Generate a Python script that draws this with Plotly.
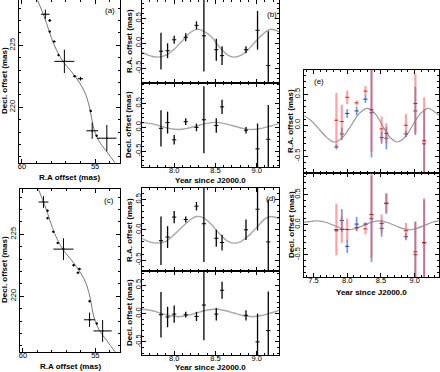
import plotly.graph_objects as go

W, H = 440, 372

# ---------------- data ----------------
# panels (a) and (c): sky positions (R.A., Decl. offsets in mas) with errors
ra_a = [58.4, 58.1, 58.1, 57.8, 57.5, 57.1, 56.4, 56.0, 55.3, 55.2, 54.9, 54.2]
dec_a = [227.5, 227.0, 226.1, 225.3, 224.2, 223.7, 222.5, 222.3, 219.7, 218.1, 217.7, 217.5]
ra_err_a = [0.3, 0.1, 0.08, 0.1, 0.07, 0.68, 0.12, 0.18, 0.08, 0.4, 0.08, 0.66]
dec_err_a = [0.38, 0.12, 0.1, 0.08, 0.08, 0.94, 0.1, 0.15, 0.1, 0.65, 0.1, 1.07]

ra_c = [58.58, 58.3, 58.3, 57.9, 57.6, 57.2, 56.5, 56.1, 56.2, 55.4, 55.4, 54.9, 54.5]
dec_c = [227.6, 226.9, 226.3, 225.2, 224.3, 223.8, 222.5, 222.2, 221.9, 219.6, 218.1, 217.8, 217.2]
ra_err_c = [0.34, 0.08, 0.08, 0.08, 0.08, 0.7, 0.1, 0.12, 0.1, 0.08, 0.38, 0.08, 0.63]
dec_err_c = [0.47, 0.1, 0.1, 0.08, 0.08, 0.88, 0.1, 0.1, 0.1, 0.1, 0.58, 0.1, 0.88]

# model track on the sky
track_ra = [58.93, 58.65, 58.31, 57.97, 57.63, 57.17, 56.6, 56.03, 55.62, 55.34, 55.12, 54.77, 54.2, 53.63]
track_dec = [228.63, 227.82, 226.75, 225.54, 224.6, 223.65, 222.85, 221.91, 220.97, 219.76, 218.41, 217.34, 216.4, 215.51]

# epochs
years = [7.84, 7.92, 8.00, 8.14, 8.27, 8.36, 8.51, 8.58, 8.87, 9.01, 9.14]

# panel (b)
b_ra = [-0.16, -0.15, 0.07, 0.12, 0.36, 0.15, -0.13, -0.25, -0.13, 0.26, -0.45]
b_ra_err = [0.37, 0.15, 0.08, 0.08, 0.08, 0.72, 0.22, 0.19, 0.07, 0.39, 0.69]
b_dec = [-0.02, 0.1, -0.26, 0.12, 0.0, 0.16, 0.04, 0.43, -0.06, -0.45, -0.25]
b_dec_err = [0.38, 0.23, 0.1, 0.07, 0.08, 0.7, 0.15, 0.15, 0.07, 0.53, 0.72]

# panel (d)
d_ra = [-0.18, -0.12, 0.21, 0.17, 0.39, 0.1, -0.14, -0.21, 0.0, 0.34, -0.2]
d_ra_err = [0.4, 0.18, 0.1, 0.05, 0.07, 0.63, 0.14, 0.13, 0.17, 0.35, 0.7]
d_dec = [-0.02, -0.06, -0.01, -0.02, -0.05, 0.15, -0.01, 0.41, -0.03, -0.5, -0.3]
d_dec_err = [0.4, 0.18, 0.15, 0.05, 0.08, 0.62, 0.11, 0.15, 0.09, 0.5, 0.69]

# panel (e): two data sets (red, blue)
e_ra_red = [0.08, 0.06, 0.45, 0.36, 0.55, 0.25, -0.06, -0.13, 0.0, 0.35, -0.25]
e_ra_red_err = [0.44, 0.27, 0.11, 0.04, 0.08, 0.68, 0.2, 0.16, 0.18, 0.48, 0.7]
e_ra_blue = [-0.35, -0.14, 0.19, 0.23, 0.42, 0.2, -0.2, -0.21, -0.14, 0.23, -0.3]
e_ra_blue_err = [0.04, 0.1, 0.07, 0.07, 0.06, 0.72, 0.1, 0.18, 0.05, 0.39, 0.55]
e_dec_red = [-0.08, -0.08, -0.08, -0.05, -0.07, 0.17, 0.02, 0.36, -0.1, -0.5, -0.3]
e_dec_red_err = [0.43, 0.22, 0.18, 0.04, 0.09, 0.72, 0.15, 0.16, 0.13, 0.55, 0.74]
e_dec_blue = [-0.1, 0.07, -0.36, 0.01, 0.01, 0.1, -0.06, 0.35, -0.2, -0.45, -0.3]
e_dec_blue_err = [0.02, 0.19, 0.11, 0.12, 0.03, 0.72, 0.14, 0.17, 0.06, 0.5, 0.72]

# model curves
cb_ra_x = [7.61, 7.7, 7.8, 7.9, 8.0, 8.1, 8.2, 8.27, 8.35, 8.45, 8.55, 8.65, 8.72, 8.8, 8.9, 9.0, 9.1, 9.17, 9.27]
cb_ra_y = [-0.18, -0.25, -0.28, -0.24, -0.12, 0.05, 0.22, 0.28, 0.25, 0.13, -0.08, -0.24, -0.28, -0.25, -0.12, 0.06, 0.22, 0.28, 0.23]
cd_ra_y = [-0.14, -0.2, -0.22, -0.19, -0.08, 0.05, 0.17, 0.22, 0.2, 0.09, -0.07, -0.19, -0.22, -0.2, -0.1, 0.04, 0.18, 0.22, 0.19]
c_dec_x = [7.61, 7.72, 7.83, 7.94, 8.05, 8.16, 8.27, 8.38, 8.5, 8.61, 8.72, 8.83, 8.95, 9.06, 9.17, 9.27]
cb_dec_y = [0.1, 0.08, 0.03, -0.02, -0.045, -0.02, 0.03, 0.08, 0.105, 0.08, 0.03, -0.02, -0.045, -0.02, 0.03, 0.08]
cd_dec_y = [0.075, 0.055, 0.01, -0.035, -0.055, -0.035, 0.01, 0.055, 0.075, 0.055, 0.01, -0.035, -0.055, -0.035, 0.01, 0.055]
ce_ra_x = [7.36, 7.46, 7.58, 7.7, 7.81, 7.93, 8.06, 8.18, 8.3, 8.41, 8.52, 8.63, 8.74, 8.86, 8.97, 9.09, 9.2, 9.3, 9.36]
ce_ra_y = [0.15, 0.08, -0.06, -0.2, -0.27, -0.2, 0.0, 0.19, 0.27, 0.19, 0.0, -0.19, -0.27, -0.19, 0.0, 0.19, 0.27, 0.21, 0.16]
ce_dec_x = [7.36, 7.5, 7.57, 7.68, 7.8, 7.91, 8.02, 8.13, 8.25, 8.36, 8.47, 8.58, 8.7, 8.81, 8.92, 9.03, 9.15, 9.26, 9.36]
ce_dec_y = [0.04, 0.06, 0.065, 0.04, -0.01, -0.06, -0.085, -0.06, -0.01, 0.04, 0.065, 0.04, -0.01, -0.06, -0.085, -0.06, -0.01, 0.04, 0.065]

y_ticks = [-0.5, 0.0, 0.5]
y_tick_text = ["-0.5", "0.0", "0.5"]
yr_ticks = [7.5, 8.0, 8.5, 9.0]
yr_tick_text = ["7.5", "8.0", "8.5", "9.0"]
sky_x_ticks = [60, 55]
sky_y_ticks = [220, 225]

# ---------------- layout helpers ----------------
FONT = "Liberation Sans, Arial, Helvetica, sans-serif"


def xd(l, r):
    return [l / W, r / W]


def yd(t, b):
    return [1 - b / H, 1 - t / H]


def ax(domain, rng, tickvals, ticktext, minor_dtick, anchor, show_labels=True, angle=0, standoff=0):
    return dict(
        domain=domain, range=rng, anchor=anchor, automargin=False,
        showline=True, linecolor="black", linewidth=1, mirror="allticks",
        ticks="inside", ticklen=4, tickwidth=1, tickcolor="black",
        tickvals=tickvals, ticktext=ticktext, showticklabels=show_labels,
        tickangle=angle, showgrid=False, zeroline=False, ticklabelstandoff=standoff,
        tickfont=dict(family=FONT, size=7.5, color="black"),
        minor=dict(ticks="inside", ticklen=2, tickwidth=1, tickcolor="black",
                   dtick=minor_dtick, showgrid=False),
    )


fig = go.Figure()

panels = {
    1: dict(x=(19, 120), y=(0, 163), xr=[60.2, 53.3], yr=[215.5, 228.65], kind="sky"),
    2: dict(x=(20, 120), y=(189, 352), xr=[60.2, 53.3], yr=[215.5, 228.65], kind="sky"),
    3: dict(x=(142, 279), y=(0, 83), xr=[7.61, 9.27], yr=[-0.8, 0.87], kind="top"),
    4: dict(x=(142, 279), y=(83, 167), xr=[7.61, 9.27], yr=[-0.83, 0.93], kind="bot"),
    5: dict(x=(142, 279), y=(188, 271), xr=[7.61, 9.27], yr=[-0.68, 0.69], kind="top"),
    6: dict(x=(142, 279), y=(271, 355), xr=[7.61, 9.27], yr=[-0.73, 0.75], kind="bot"),
    7: dict(x=(304, 439), y=(70, 173), xr=[7.36, 9.36], yr=[-0.77, 0.89], kind="top"),
    8: dict(x=(304, 439), y=(173, 277), xr=[7.36, 9.36], yr=[-0.87, 0.86], kind="bot"),
}

layout = {}
for i, p in panels.items():
    xk = "xaxis" if i == 1 else f"xaxis{i}"
    yk = "yaxis" if i == 1 else f"yaxis{i}"
    xa = f"x{i}" if i > 1 else "x"
    ya = f"y{i}" if i > 1 else "y"
    if p["kind"] == "sky":
        layout[xk] = ax(xd(*p["x"]), p["xr"], sky_x_ticks, [str(v) for v in sky_x_ticks], 1, ya, standoff=-4)
        layout[yk] = ax(yd(*p["y"]), p["yr"], sky_y_ticks, [str(v) for v in sky_y_ticks], 1, xa, angle=-90)
    else:
        layout[xk] = ax(xd(*p["x"]), p["xr"], yr_ticks, yr_tick_text, 0.1, ya,
                        show_labels=(p["kind"] == "bot"), standoff=-4)
        layout[yk] = ax(yd(*p["y"]), p["yr"], y_ticks, y_tick_text, 0.1, xa, angle=-90,
                        standoff=(-3 if i <= 6 else 0))


def ref(i):
    return ("x" if i == 1 else f"x{i}"), ("y" if i == 1 else f"y{i}")


for i, (rx, dy, rxe, dye) in {1: (ra_a, dec_a, ra_err_a, dec_err_a),
                               2: (ra_c, dec_c, ra_err_c, dec_err_c)}.items():
    xr, yr = ref(i)
    fig.add_trace(go.Scatter(x=track_ra, y=track_dec, mode="lines", line=dict(color="#777777", width=1, shape="spline"),
                             xaxis=xr, yaxis=yr, showlegend=False, hoverinfo="skip"))
    fig.add_trace(go.Scatter(x=rx, y=dy, mode="markers", marker=dict(size=2, color="black"),
                             error_x=dict(type="data", array=rxe, width=0, thickness=1, color="black"),
                             error_y=dict(type="data", array=dye, width=0, thickness=1, color="black"),
                             xaxis=xr, yaxis=yr, showlegend=False))


def curve(i, xs, ys, color="#a8a8a8", width=1.4):
    xr, yr = ref(i)
    fig.add_trace(go.Scatter(x=xs, y=ys, mode="lines", line=dict(color=color, width=width, shape="spline"),
                             xaxis=xr, yaxis=yr, showlegend=False, hoverinfo="skip"))


def bars(i, vals, errs, color="black", thick=1.3, mcolor="black"):
    xr, yr = ref(i)
    fig.add_trace(go.Scatter(x=years, y=vals, mode="markers",
                             marker=dict(symbol="line-ew", size=3, line=dict(width=1, color=mcolor)),
                             error_y=dict(type="data", array=errs, width=0, thickness=thick, color=color),
                             xaxis=xr, yaxis=yr, showlegend=False))


curve(3, cb_ra_x, cb_ra_y)
bars(3, b_ra, b_ra_err)
curve(4, c_dec_x, cb_dec_y)
bars(4, b_dec, b_dec_err)
curve(5, cb_ra_x, cd_ra_y)
bars(5, d_ra, d_ra_err)
curve(6, c_dec_x, cd_dec_y)
bars(6, d_dec, d_dec_err)

BLUE = "rgba(60,110,205,0.7)"
RED = "rgba(245,90,90,0.55)"
curve(7, ce_ra_x, ce_ra_y, color="#9a9a9a", width=1.2)
bars(7, e_ra_blue, e_ra_blue_err, color=BLUE, thick=1.7, mcolor="rgba(20,50,150,0.9)")
bars(7, e_ra_red, e_ra_red_err, color=RED, thick=2.2, mcolor="rgba(200,0,0,0.8)")
curve(8, ce_dec_x, ce_dec_y, color="#9a9a9a", width=1.2)
bars(8, e_dec_blue, e_dec_blue_err, color=BLUE, thick=1.7, mcolor="rgba(20,50,150,0.9)")
bars(8, e_dec_red, e_dec_red_err, color=RED, thick=2.2, mcolor="rgba(200,0,0,0.8)")

ann = []


def txt(t, px, py, angle=0, size=8, bold=True):
    ann.append(dict(text=f"<b>{t}</b>" if bold else t, x=px / W, y=1 - py / H, xref="paper", yref="paper",
                    xanchor="center", yanchor="middle", showarrow=False, textangle=angle,
                    font=dict(family=FONT, size=size, color="black")))


txt("Decl. offset (mas)", 4, 81, -90)
txt("R.A offset (mas)", 69.5, 177)
txt("(a)", 110, 11, bold=False)
txt("Decl. offset (mas)", 4, 270, -90)
txt("R.A offset (mas)", 70, 366)
txt("(c)", 109, 200, bold=False)
txt("R.A. offset (mas)", 129, 41, -90)
txt("Decl. offset (mas)", 129, 125, -90)
txt("Year since J2000.0", 210.5, 180.5)
txt("(b)", 272, 15, bold=False)
txt("R.A. offset (mas)", 129, 230, -90)
txt("Decl. offset (mas)", 129, 313, -90)
txt("Year since J2000.0", 210.5, 367.5)
txt("(d)", 271, 198, bold=False)
txt("R.A. offset (mas)", 291, 121, -90)
txt("Decl. offset (mas)", 291, 225, -90)
txt("Year since J2000.0", 371.5, 292)
txt("(e)", 319, 81, bold=False)

fig.update_layout(
    width=W, height=H, margin=dict(l=0, r=0, t=0, b=0, autoexpand=False),
    paper_bgcolor="white", plot_bgcolor="white",
    showlegend=False, annotations=ann,
    font=dict(family=FONT, size=8, color="black"),
    **layout,
)

fig.write_html("out.html", config={"displayModeBar": False},
               post_script="document.body.style.margin='0';document.body.style.padding='0';")
